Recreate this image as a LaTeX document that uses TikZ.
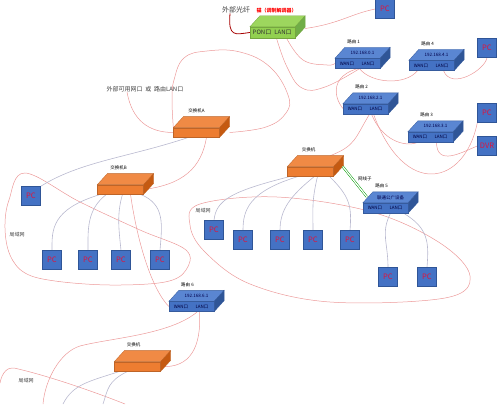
\documentclass[tikz,border=0pt]{standalone}
\usepackage{fontspec}
\setmainfont{Noto Sans CJK SC}
\usetikzlibrary{backgrounds}
\definecolor{rtfront}{HTML}{4472C4}
\definecolor{rttop}{HTML}{5A86D2}
\definecolor{rtside}{HTML}{2F5597}
\definecolor{swfront}{HTML}{ED7D31}
\definecolor{swtop}{HTML}{F08A45}
\definecolor{swside}{HTML}{C55A11}
\definecolor{mdfront}{HTML}{92D050}
\definecolor{mdtop}{HTML}{9DD65E}
\definecolor{mdside}{HTML}{70AD47}
\definecolor{cablered}{HTML}{EC9A9A}
\definecolor{langray}{HTML}{B9B9CF}
\definecolor{pctext}{HTML}{E0143C}
\definecolor{labeltext}{HTML}{404040}
\newcommand{\portpair}[2]{\makebox[21pt]{#1}\makebox[21pt]{#2}}
\tikzset{
 box3d/.style n args={3}{fill=#1,draw=#1!80!black,line width=0.3pt,inner sep=0pt,
  append after command={\pgfextra{\let\boxnode\tikzlastnode
   \filldraw[fill=#2,draw=#1!80!black,line width=0.3pt] (\boxnode.north west) -- ++(10pt,11pt)
     -- ([shift={(10pt,11pt)}]\boxnode.north east) -- (\boxnode.north east) -- cycle;
   \filldraw[fill=#3,draw=#1!80!black,line width=0.3pt] (\boxnode.north east) -- ++(10pt,11pt)
     -- ([shift={(10pt,11pt)}]\boxnode.south east) -- (\boxnode.south east) -- cycle;}}},
 divider/.style={append after command={\pgfextra{\let\divnode\tikzlastnode
   \draw[#1,line width=0.6pt] (\divnode.north) -- (\divnode.south);}}}
}
\begin{document}
\begin{tikzpicture}[x=1pt,y=-1pt,
 router/.style={box3d={rtfront}{rttop}{rtside},divider=red,minimum width=45pt,minimum height=10pt,
   font=\fontsize{4.5}{5}\selectfont,text=black!75!blue},
 switch/.style={box3d={swfront}{swtop}{swside},minimum width=46pt,minimum height=9.5pt},
 modem/.style={box3d={mdfront}{mdtop}{mdside},divider=swside,minimum width=45pt,minimum height=11pt,
   font=\fontsize{6}{6}\selectfont,text=black!80},
 pc/.style={fill=rtfront,draw=rtside,line width=0.4pt,minimum size=19pt,inner sep=0pt,
   font=\fontsize{7.5}{8}\selectfont,text=pctext},
 tag/.style={font=\fontsize{4.5}{5}\selectfont,text=black,inner sep=0pt},
 iptag/.style={font=\fontsize{4.5}{5}\selectfont,text=black!70!blue,inner sep=0pt},
 note/.style={font=\fontsize{6}{7}\selectfont,text=labeltext,inner sep=0pt},
 cable/.style={draw=cablered,line width=0.5pt},
 lan/.style={draw=langray,line width=0.6pt},
 fibre/.style={draw=red!65!black,line width=0.8pt}]
\useasboundingbox (0,0) rectangle (500,404);
% devices
\node[modem] (modem) at (272.5,32.5) {\portpair{PON口}{LAN口}};
\node[router] (r1) at (357.5,63.5) {\portpair{WAN口}{LAN口}};
\node[router] (r4) at (431.5,65.5) {\portpair{WAN口}{LAN口}};
\node[router] (r2) at (365.5,109) {\portpair{WAN口}{LAN口}};
\node[router] (r3) at (430.5,137) {\portpair{WAN口}{LAN口}};
\node[router] (r5) at (385.5,208) {\portpair{WAN口}{LAN口}};
\node[router] (r6) at (191.5,306.5) {\portpair{WAN口}{LAN口}};
\node[switch] (swA) at (196.5,132.5) {};
\node[switch] (swB) at (120.5,189.5) {};
\node[switch] (swC) at (310.5,171.5) {};
\node[switch] (swD) at (137.5,366.5) {};
% labels on and above the boxes
\node[tag,text=red,font=\bfseries\fontsize{5}{5}\selectfont] at ([shift={(4pt,16pt)}]modem.north) {猫（调制解调器）};
\foreach \r/\n/\ip in {r1/1/192.168.0.1,r4/4/192.168.4.1,r2/2/192.168.2.1,r3/3/192.168.3.1,r6/6/192.168.6.1}{
  \node[tag] at ([shift={(-4pt,17pt)}]\r.north) {路由 \n};
  \node[iptag] at ([shift={(5pt,5.5pt)}]\r.north) {\ip};}
\node[tag] at ([shift={(-4pt,17pt)}]r5.north) {路由 5};
\node[iptag] at ([shift={(5pt,5.5pt)}]r5.north) {联通公广设备};
\node[tag] at ([shift={(0pt,16.5pt)}]swA.north) {交换机A};
\node[tag] at ([shift={(-2pt,16.5pt)}]swB.north) {交换机B};
\node[tag] at ([shift={(-2pt,16.5pt)}]swC.north) {交换机};
\node[tag] at ([shift={(-4pt,16.5pt)}]swD.north) {交换机};
\node[note,font=\fontsize{7}{8}\selectfont] (fiber) at (236,10) {外部光纤};
\node[note] (ext) at (145,89) {外部可用网口 \ 或 \ 路由LAN口};
\node[note,font=\fontsize{5}{6}\selectfont] (lanL) at (17,235) {局域网};
\node[note,font=\fontsize{5}{6}\selectfont] (lanM) at (203,211) {局域网};
\node[note,font=\fontsize{5}{6}\selectfont] (lanD) at (26,381) {局域网};
% PCs
\node[pc] (pc1) at (385,9) {PC};
\node[pc] (pc2) at (487,48) {PC};
\node[pc] (pc3) at (487,113) {PC};
\node[pc] (dvr) at (487,146) {DVR};
\node[pc] (pcL) at (31,196) {PC};
\node[pc] (pcB1) at (52,260) {PC};
\node[pc] (pcB2) at (88,260) {PC};
\node[pc] (pcB3) at (121,260) {PC};
\node[pc] (pcB4) at (160,260) {PC};
\node[pc] (pcC0) at (214,230) {PC};
\node[pc] (pcC1) at (243,240) {PC};
\node[pc] (pcC2) at (280,240) {PC};
\node[pc] (pcC3) at (313,240) {PC};
\node[pc] (pcC4) at (350,240) {PC};
\node[pc] (pcD1) at (388,277) {PC};
\node[pc] (pcD2) at (427,277) {PC};
\coordinate (outA) at (43,404);
\coordinate (outB) at (63,404);
\coordinate (outC) at (103,404);
% cables
\begin{scope}[on background layer]
\draw[fibre] ([xshift=-6pt]fiber.south) .. controls +(-2,24) and +(-15,2) .. (modem.west);
\draw[cable] ([shift={(10pt,4pt)}]modem.east) .. controls +(35,-5) and +(-25,5) .. (pc1.west);
\draw[cable] plot[smooth,tension=0.7] coordinates {([xshift=4pt]modem.south) (287,67) (302,88) (325,87) ([xshift=2pt]r1.south)};
\draw[cable] plot[smooth,tension=0.7] coordinates {([xshift=14pt]modem.south) (303,60) (327,65) (r1.west)};
\draw[cable] plot[smooth,tension=0.7] coordinates {(swA.north west) (172,100) (174,80) (184,58) (207,51) (240,52) (270,67) (288,95) (286,113) (266,127) ([xshift=10pt]swA.east)};
\draw[cable] (ext.south) ++(-18,0) .. controls +(5,28) and +(-25,0) .. (swA.west);
\draw[cable] ([xshift=2pt]r1.south) .. controls +(12,15) and +(-12,15) .. ([xshift=-14pt]r4.south);
\draw[cable] ([xshift=12pt]r4.south) .. controls +(8,20) and +(-2,12) .. (pc2.south);
\draw[cable] (r1.south) .. controls +(-35,10) and +(-12,-4) .. ([xshift=-15pt]r2.south);
\draw[cable] ([xshift=6pt]r2.south) .. controls +(10,25) and +(-15,6) .. ([xshift=-12pt]r3.south);
\draw[cable] ([xshift=6pt]r3.south) .. controls +(0,25) and +(-15,6) .. (dvr.west);
\draw[cable] ([xshift=8pt]r2.south) .. controls (405,200) and (465,185) .. (pc3.south west);
\draw[cable] ([xshift=4pt]r2.south) .. controls +(-15,25) and +(25,-10) .. ([shift={(20pt,11pt)}]swC.north);
\draw[cable] ([xshift=10pt]swA.south) .. controls +(-5,30) and +(40,-5) .. (swB.east);
\draw[cable] ([xshift=10pt]swB.south) .. controls +(8,55) and +(-15,-15) .. (r6.west);
\draw[cable] ([xshift=8pt]r6.south) .. controls +(2,35) and +(30,2) .. (swD.east);
\draw[cable] ([xshift=6pt]r6.south) .. controls (170,335) and (110,338) .. (80,346)
  .. controls (60,352) and (45,380) .. (outA);
% hand-drawn outlines
\draw[cable] plot[smooth cycle,tension=0.6] coordinates {(25,173) (9,200) (5,228) (10,255) (25,273) (55,281) (110,285) (165,282) (186,270) (186,250) (140,230) (80,202)};
\draw[cable] plot[smooth cycle,tension=0.6] coordinates {(200,204) (277,197) (372,212) (440,243) (470,276) (445,298) (330,302) (250,284) (205,252) (190,225)};
\draw[cable] (0,383) .. controls (2,372) and (8,367) .. (14,368) .. controls (50,376) and (100,394) .. (125,404);
% lan wiring
\draw[lan] ([xshift=-8pt]swA.south) .. controls +(-60,20) and +(40,-25) .. (pcL.north east);
\draw[lan] ([xshift=-20pt]swB.south) .. controls +(-50,15) and +(0,-20) .. (pcB1.north);
\draw[lan] ([xshift=-14pt]swB.south) .. controls +(-20,15) and +(0,-20) .. (pcB2.north);
\draw[lan] ([xshift=2pt]swB.south) .. controls +(-6,20) and +(-2,-20) .. (pcB3.north);
\draw[lan] ([xshift=20pt]swB.south) .. controls +(25,10) and +(2,-25) .. (pcB4.north);
\draw[lan] ([xshift=-20pt]swC.south) .. controls +(-60,15) and +(2,-20) .. (pcC0.north);
\draw[lan] ([xshift=-12pt]swC.south) .. controls +(-50,15) and +(0,-20) .. (pcC1.north);
\draw[lan] ([xshift=4pt]swC.south) .. controls +(-25,20) and +(0,-20) .. (pcC2.north);
\draw[lan] ([xshift=7pt]swC.south) .. controls +(-6,25) and +(0,-20) .. (pcC3.north);
\draw[lan] ([xshift=19pt]swC.south) .. controls +(20,20) and +(2,-25) .. (pcC4.north);
\draw[lan] ([xshift=5pt]r5.south) .. controls +(-10,20) and +(0,-25) .. (pcD1.north);
\draw[lan] ([xshift=18pt]r5.south) .. controls +(25,15) and +(2,-25) .. (pcD2.north);
\draw[lan] ([xshift=-18pt]swD.south) .. controls +(-30,10) and +(10,-20) .. (outB);
\draw[lan] ([xshift=-10pt]swD.south) .. controls +(-20,10) and +(5,-15) .. (outC);
\end{scope}
\draw[green!60!black,double=white,double distance=1.2pt,line width=0.5pt]
  ([shift={(9pt,5pt)}]swC.east) -- node[tag,pos=0.55,above right=2pt] {网线子} ([shift={(4pt,6pt)}]r5.north west);
\end{tikzpicture}
\end{document}
